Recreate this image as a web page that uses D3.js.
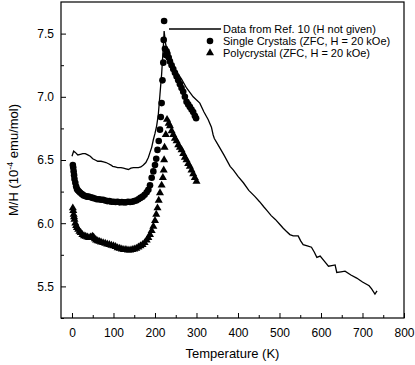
<!DOCTYPE html>
<html><head><meta charset="utf-8">
<script src="https://cdn.jsdelivr.net/npm/d3@7"></script>
<style>body{margin:0;background:#fff}svg{display:block;font-family:"Liberation Sans",Arial,sans-serif}</style>
</head><body><svg id="c" width="415" height="365"></svg>
<script>
// Data from Ref. 10 (line)
const refT = [0,4,8,14,20,26,32,38,44,50,56,62,70,76,82,88,94,98,104,110,118,124,130,136,142,148,154,160,166,172,178,184,188,192,196,200,204,208,212,216,219,221,222,224,226,230,236,244,252,264,276,292,308,318,328,336,340,343,352,366,381,389,400,413,426,441,452,462,470,480,490,501,509,517,525,533,545,551,557,567,577,584,590,598,608,618,626,634,638,648,658,672,686,700,716,722,730,735];
const refV = [6.53,6.57,6.56,6.54,6.545,6.55,6.55,6.54,6.53,6.51,6.50,6.49,6.49,6.485,6.48,6.47,6.46,6.45,6.445,6.44,6.44,6.435,6.43,6.425,6.435,6.44,6.44,6.44,6.445,6.46,6.48,6.52,6.56,6.60,6.66,6.71,6.77,6.86,7.02,7.18,7.34,7.45,7.52,7.46,7.41,7.37,7.30,7.24,7.20,7.14,7.07,7.00,6.95,6.88,6.82,6.76,6.70,6.67,6.62,6.54,6.45,6.42,6.37,6.32,6.26,6.21,6.17,6.13,6.10,6.06,6.03,5.99,5.96,5.935,5.91,5.90,5.90,5.86,5.83,5.82,5.81,5.77,5.73,5.74,5.70,5.66,5.665,5.67,5.61,5.615,5.62,5.59,5.566,5.535,5.505,5.48,5.44,5.465];
// Single crystals (circles)
const scT = [2,3,4,5,6,8,10,12,14,17,20,24,28,32,36,40,45,50,55,60,65,70,75,80,85,90,95,100,105,110,115,120,125,130,135,140,145,150,155,160,165,170,175,180,184,188,192,196,200,203,206,209,212,214,216,218,220,221,222,224,226,228,230,233,236,240,244,248,252,256,260,264,268,272,276,280,284,288,292,296,299];
const scV = [6.46,6.44,6.41,6.38,6.35,6.32,6.29,6.27,6.26,6.25,6.24,6.23,6.22,6.215,6.21,6.21,6.205,6.20,6.195,6.19,6.19,6.185,6.185,6.18,6.175,6.175,6.17,6.17,6.168,6.17,6.165,6.167,6.165,6.165,6.17,6.168,6.17,6.175,6.18,6.19,6.20,6.21,6.225,6.245,6.265,6.30,6.36,6.41,6.46,6.51,6.58,6.65,6.74,6.84,6.95,7.13,7.27,7.45,7.60,7.38,7.33,7.36,7.34,7.31,7.28,7.25,7.22,7.19,7.16,7.13,7.10,7.07,7.04,7.00,6.96,6.94,6.92,6.90,6.88,6.85,6.83];
// Polycrystal (triangles)
const pcT = [2,3,4,5,6,8,10,12,15,18,21,25,29,33,37,41,45,49,52,55,58,62,66,70,75,80,85,90,95,100,105,110,115,120,125,130,135,140,145,150,155,160,165,170,175,180,184,188,192,196,200,203,206,209,212,216,219,221,222,223,226,229,233,236,240,244,248,252,256,260,264,268,272,276,280,284,288,292,296,300];
const pcV = [6.12,6.10,6.07,6.05,6.03,6.00,5.98,5.965,5.95,5.935,5.925,5.91,5.90,5.895,5.89,5.885,5.89,5.895,5.89,5.875,5.865,5.86,5.855,5.85,5.845,5.84,5.835,5.83,5.825,5.82,5.815,5.805,5.80,5.795,5.79,5.79,5.787,5.787,5.79,5.795,5.80,5.81,5.82,5.83,5.845,5.865,5.885,5.91,5.94,5.975,6.02,6.07,6.12,6.18,6.24,6.30,6.36,6.42,6.50,6.60,6.70,6.82,6.79,6.77,6.73,6.70,6.67,6.65,6.62,6.60,6.58,6.55,6.52,6.50,6.47,6.45,6.42,6.39,6.36,6.33];
const xTicks = [0,100,200,300,400,500,600,700,800];
const yTicks = [5.5,6.0,6.5,7.0,7.5];
const legendLabels = ["Data from Ref. 10 (H not given)","Single Crystals (ZFC, H = 20 kOe)","Polycrystal (ZFC, H = 20 kOe)"];

const L=61,R=404,T=2,B=318;
const svg=d3.select("#c");
const x=d3.scaleLinear().domain([-26.5,800]).range([L,R]);
const y=d3.scaleLinear().domain([5.25,7.75]).range([B,T]);

// axes with inward ticks
const xMinor=d3.range(50,800,100);
const yMinor=[5.25,5.75,6.25,6.75,7.25];
const gx=svg.append("g").attr("transform",`translate(0,${B})`);
gx.call(d3.axisBottom(x).tickValues(xTicks).tickFormat(d3.format("d")).tickSizeInner(-5).tickSizeOuter(0).tickPadding(10));
gx.append("g").call(d3.axisBottom(x).tickValues(xMinor).tickFormat("").tickSizeInner(-3).tickSizeOuter(0));
const gy=svg.append("g").attr("transform",`translate(${L},0)`);
gy.call(d3.axisLeft(y).tickValues(yTicks).tickFormat(d3.format(".1f")).tickSizeInner(-5).tickSizeOuter(0).tickPadding(7));
gy.append("g").call(d3.axisLeft(y).tickValues(yMinor).tickFormat("").tickSizeInner(-3).tickSizeOuter(0));
svg.selectAll(".domain").remove();
svg.selectAll(".tick line").attr("stroke","#000").attr("stroke-width",1);
svg.selectAll(".tick text").attr("font-size",12).attr("fill","#000").attr("font-family","Liberation Sans, Arial, sans-serif");
svg.append("rect").attr("x",L).attr("y",T).attr("width",R-L).attr("height",B-T).attr("fill","none").attr("stroke","#000").attr("stroke-width",1.2);

// titles
svg.append("text").attr("x",(L+R)/2).attr("y",358).attr("text-anchor","middle").attr("font-size",13).text("Temperature (K)");
const yt=svg.append("text").attr("transform",`translate(18,${(T+B)/2}) rotate(-90)`).attr("text-anchor","middle").attr("font-size",13);
yt.append("tspan").text("M/H (10");
yt.append("tspan").attr("dy",-5).attr("font-size",9).text("-4");
yt.append("tspan").attr("dy",5).text(" emu/mol)");

// line
const ref=refT.map((t,i)=>[t,refV[i]]);
svg.append("path").datum(ref).attr("fill","none").attr("stroke","#000").attr("stroke-width",1.3)
  .attr("d",d3.line().x(d=>x(d[0])).y(d=>y(d[1])));
// circles
svg.append("g").selectAll("circle").data(scT.map((t,i)=>[t,scV[i]])).join("circle")
  .attr("cx",d=>x(d[0])).attr("cy",d=>y(d[1])).attr("r",3.3).attr("fill","#000");
// triangles
const tri=d3.symbol().type(d3.symbolTriangle).size(28);
svg.append("g").selectAll("path").data(pcT.map((t,i)=>[t,pcV[i]])).join("path")
  .attr("transform",d=>`translate(${x(d[0])},${y(d[1])})`).attr("d",tri).attr("fill","#000");

// legend
const lg=svg.append("g").attr("font-size",11);
lg.append("line").attr("x1",169).attr("x2",221).attr("y1",29).attr("y2",29).attr("stroke","#000").attr("stroke-width",1.3);
lg.append("circle").attr("cx",210).attr("cy",41).attr("r",3.3);
lg.append("path").attr("transform","translate(210,53)").attr("d",tri);
legendLabels.forEach((s,i)=>lg.append("text").attr("x",223).attr("y",32.5+i*12).text(s));
</script></body></html>
